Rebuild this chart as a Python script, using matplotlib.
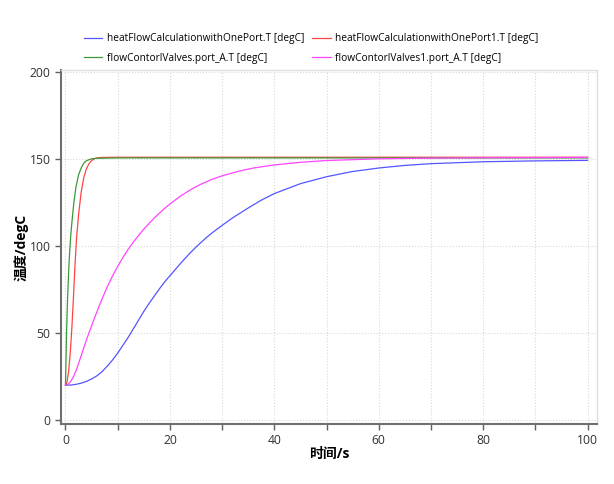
import numpy as np
import matplotlib
matplotlib.use("Agg")
import matplotlib.pyplot as plt
from matplotlib.ticker import MultipleLocator

plt.rcParams['font.family'] = ['Open Sans', 'Noto Sans CJK SC', 'DejaVu Sans']

# datos
t_azul = [0, 1, 2, 3, 4, 5, 6, 7, 8, 9, 10, 11, 12, 13, 14, 15, 16, 17, 18, 19, 20,
          21, 22, 23, 24, 25, 26, 27, 28, 30, 32, 35, 37.5, 40, 45, 50, 55, 60, 65,
          70, 80, 90, 100]
azul = [20, 20.1, 20.5, 21.2, 22.2, 23.6, 25.4, 27.8, 31, 34.5, 38.5, 43, 47.5, 52.5,
        57.5, 62.5, 67, 71.3, 75.5, 79.5, 83, 86.5, 90, 93.3, 96.5, 99.5, 102.3, 105,
        107.5, 112, 116.3, 122, 126.5, 130.3, 136, 140, 143, 145, 146.5, 147.5, 148.6,
        149.1, 149.4]

t_rojo = [0, 0.3, 0.6, 0.9, 1.2, 1.5, 1.8, 2.1, 2.5, 3.0, 3.5, 4.0, 4.5, 5.0, 5.5, 6,
          7, 10, 100]
rojo = [20, 22, 28, 38, 52, 69, 88, 104, 118, 131, 139.5, 144.5, 147.5, 149.3, 150.3,
        150.8, 151.1, 151.2, 151.2]

t_verde = [0, 0.2, 0.4, 0.6, 0.8, 1.0, 1.3, 1.6, 2.0, 2.5, 3.0, 3.5, 4.0, 5.0, 6, 10,
           100]
verde = [20, 50, 70, 85, 97, 106, 116, 125, 134, 141, 145, 147.8, 149.2, 150.3, 150.6,
         150.8, 150.8]

t_rosa = [0, 0.5, 1, 1.5, 2, 2.5, 3, 3.5, 4, 4.5, 5, 5.5, 6, 6.5, 7, 7.5, 8, 9, 10, 11,
          12, 13, 14, 15, 16, 17, 18, 19, 20, 22, 24, 26, 28, 30, 33, 36, 40, 45, 50,
          60, 70, 80, 100]
rosa = [20, 20.6, 22.2, 24.8, 28.2, 32.5, 37, 41.5, 46, 50.2, 54.2, 58.2, 62.1, 66,
        69.6, 73.2, 76.6, 82.8, 88.4, 93.5, 98.2, 102.4, 106.2, 109.8, 113.1, 116.2,
        119.1, 121.8, 124.3, 128.8, 132.6, 135.8, 138.4, 140.5, 143, 145, 146.8, 148.3,
        149.3, 150.3, 150.7, 150.9, 151.1]

nombres = ["heatFlowCalculationwithOnePort.T [degC]",
           "heatFlowCalculationwithOnePort1.T [degC]",
           "flowContorlValves.port_A.T [degC]",
           "flowContorlValves1.port_A.T [degC]"]

fig = plt.figure(figsize=(6.14, 4.84), dpi=100)
ax = fig.add_axes([61/614, 1-424/484, (597-61)/614, (424-70)/484])

l1, = ax.plot(t_azul, azul, color="#5555ff", lw=0.9, label=nombres[0])
l2, = ax.plot(t_rojo, rojo, color="#ff4444", lw=0.9, label=nombres[1])
l3, = ax.plot(t_verde, verde, color="#3a9a3a", lw=0.9, label=nombres[2])
l4, = ax.plot(t_rosa, rosa, color="#ff44ff", lw=0.9, label=nombres[3])

ax.set_xlim(-0.86, 101.8)
ax.set_ylim(-2.3, 201.4)
ax.xaxis.set_major_locator(MultipleLocator(20))
ax.xaxis.set_minor_locator(MultipleLocator(10))
ax.yaxis.set_major_locator(MultipleLocator(50))
ax.grid(True, which="both", axis="x", ls=":", color="#d8d8d8", lw=0.8)
ax.grid(True, which="major", axis="y", ls=":", color="#d8d8d8", lw=0.8)

for s in ["top", "right"]:
    ax.spines[s].set_color("#e0e0e0")
    ax.spines[s].set_linewidth(1.0)
for s in ["left", "bottom"]:
    ax.spines[s].set_color("#707070")
    ax.spines[s].set_linewidth(1.5)
ax.tick_params(which="both", direction="out", color="#606060", labelsize=8.7,
               labelcolor="#303030")
ax.tick_params(which="major", length=4, width=1)
ax.tick_params(which="minor", length=4, width=1)

ax.set_xlabel("时间/s", fontsize=10, fontweight="bold", labelpad=0)
ax.set_ylabel("温度/degC", fontsize=10, fontweight="bold", labelpad=1)

fig.legend([l1, l3, l2, l4], [nombres[0], nombres[2], nombres[1], nombres[3]],
           ncol=2, loc="upper center", bbox_to_anchor=(0.507, 0.95), frameon=False,
           fontsize=7.3, handlelength=1.8, columnspacing=0.8, labelspacing=0.85,
           handletextpad=0.45)

fig.savefig("out.png", dpi=100)
